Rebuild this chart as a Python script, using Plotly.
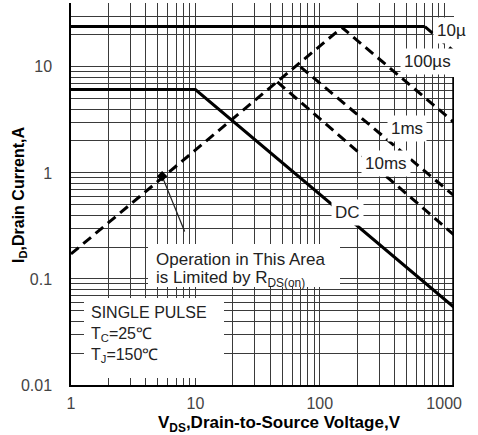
import plotly.graph_objects as go

# ---------------- data ----------------
v_limit = [1, 700]
i_limit = [24, 24]
v_10us = [700, 1200]
i_10us = [24, 14]
v_100us = [1, 151, 1200]          # R_DS(on) limit rising into the 100us line
i_100us = [0.172, 23.5, 3.0]
v_1ms = [70, 1200]
i_1ms = [10, 0.61]
v_10ms = [45.6, 1200]
i_10ms = [7.2, 0.26]
v_dc = [1, 10, 1200]
i_dc = [6.1, 6.1, 0.054]
v_bvdss = [1200, 1200]
i_bvdss = [0.01, 8]
v_note = [5.4, 8.2]
i_note = [0.93, 0.28]

x_tickvals = [1, 10, 100, 1000]
x_ticktext = ["1", "10", "100", "1000"]
x_minorvals = [m * d for d in [1, 10, 100] for m in range(2, 10)]
y_tickvals = [0.01, 0.1, 1, 10]
y_ticktext = ["0.01", "0.1", "1", "10"]
y_minorvals = [round(m * d, 4) for d in [0.01, 0.1, 1] for m in range(2, 10)] + [20, 30, 40]

# ---------------- layout geometry ----------------
W, H = 478, 435
L, R, T, B = 71, 24, 3, 50
PW, PH = W - L - R, H - T - B


def fx(px):
    return (px - L) / PW


def fy(py):
    return (H - B - py) / PH


FONT = "Liberation Sans, Arial, sans-serif"
thick = dict(color="black", width=3)
dashed = dict(color="black", width=3, dash="10px,6px")

fig = go.Figure()
fig.add_trace(go.Scatter(x=v_limit, y=i_limit, mode="lines", line=thick))
fig.add_trace(go.Scatter(x=v_10us, y=i_10us, mode="lines", line=dashed))
fig.add_trace(go.Scatter(x=v_100us, y=i_100us, mode="lines", line=dashed))
fig.add_trace(go.Scatter(x=v_1ms, y=i_1ms, mode="lines", line=dashed))
fig.add_trace(go.Scatter(x=v_10ms, y=i_10ms, mode="lines", line=dashed))
fig.add_trace(go.Scatter(x=v_dc, y=i_dc, mode="lines", line=thick))
fig.add_trace(go.Scatter(x=v_bvdss, y=i_bvdss, mode="lines", line=dict(color="black", width=3.5)))
fig.add_trace(go.Scatter(x=v_note, y=i_note, mode="lines", line=dict(color="#222", width=1.2)))
fig.add_trace(go.Scatter(x=v_note[:1], y=i_note[:1], mode="markers",
                         marker=dict(symbol="diamond", size=8, color="black")))

# white boxes that hide the grid behind the text blocks
for x0, x1, y0, y1 in [(84, 224, 298, 378), (148, 340, 244, 287)]:
    fig.add_shape(type="rect", xref="paper", yref="paper",
                  x0=fx(x0), x1=fx(x1), y0=fy(y1), y1=fy(y0),
                  fillcolor="white", line=dict(width=0), layer="above")


def label(text, px, py, bg=True, xanchor="center", size=17):
    fig.add_annotation(text=text, xref="paper", yref="paper", x=fx(px), y=fy(py),
                       xanchor=xanchor, yanchor="middle", showarrow=False, align="left",
                       font=dict(family=FONT, size=size, color="#222"),
                       bgcolor="white" if bg else None, borderpad=3 if bg else 0)


label("10µ", 451, 31)
label("100µs", 427, 62)
label("1ms", 407, 128)
label("10ms", 386, 163)
label("DC", 347, 212)
label("Operation in This Area", 155, 259, bg=False, xanchor="left")
label("is Limited by R<sub>DS(on)</sub>", 155, 279, bg=False, xanchor="left")
label("SINGLE PULSE<br>T<sub>C</sub>=25℃<br>T<sub>J</sub>=150℃", 90, 334, bg=False,
      xanchor="left", size=16)

# axis titles
fig.add_annotation(text="<b>V<sub>DS</sub>,Drain-to-Source Voltage,V</b>", xref="paper", yref="paper",
                   x=fx(279), y=fy(424), xanchor="center", yanchor="middle", showarrow=False,
                   font=dict(family=FONT, size=17, color="black"))
fig.add_annotation(text="<b>I<sub>D</sub>,Drain Current,A</b>", xref="paper", yref="paper",
                   x=fx(19), y=fy(194), xanchor="center", yanchor="middle", showarrow=False,
                   textangle=-90, font=dict(family=FONT, size=16, color="black"))

grid = dict(showgrid=True, gridcolor="#3a3a3a", gridwidth=1.2, zeroline=False,
            showline=True, linecolor="black", linewidth=1.5, ticks="", automargin=False,
            tickfont=dict(family=FONT, size=16, color="#444"))

fig.update_xaxes(type="log", range=[0, 3.0792], tickmode="array",
                 tickvals=x_tickvals, ticktext=x_ticktext, ticklabelstandoff=3,
                 minor=dict(tickmode="array", tickvals=x_minorvals, showgrid=True,
                            gridcolor="#3a3a3a", gridwidth=1.2, ticks=""), **grid)
fig.update_yaxes(type="log", range=[-2, 1.6021], tickmode="array",
                 tickvals=y_tickvals, ticktext=y_ticktext, ticklabelstandoff=14,
                 minor=dict(tickmode="array", tickvals=y_minorvals, showgrid=True,
                            gridcolor="#3a3a3a", gridwidth=1.2, ticks=""), **grid)

fig.update_layout(width=W, height=H, margin=dict(l=L, r=R, t=T, b=B, autoexpand=False),
                  plot_bgcolor="white", paper_bgcolor="white", showlegend=False,
                  font=dict(family=FONT))

fig.write_html("out.html", config={"displayModeBar": False},
               post_script="document.body.style.margin='0';document.body.style.overflow='hidden';")
